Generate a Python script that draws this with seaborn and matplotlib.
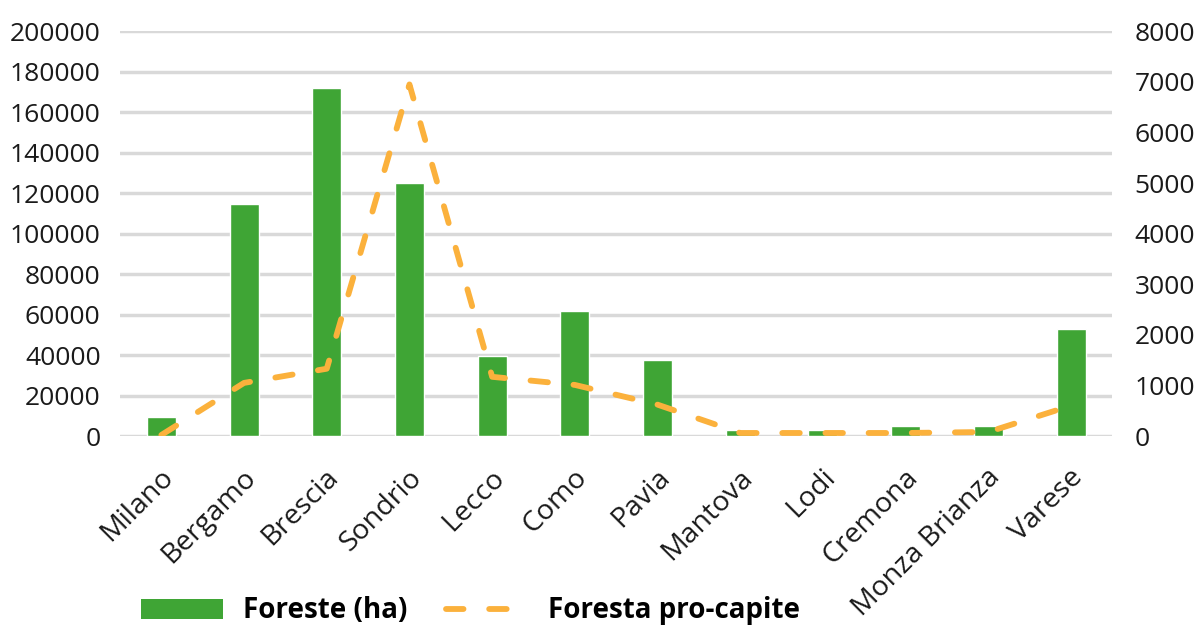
import matplotlib
matplotlib.use("Agg")
import matplotlib.pyplot as plt
import matplotlib.transforms as mtransforms
import seaborn as sns
import pandas as pd
from matplotlib.patches import Patch
from matplotlib.lines import Line2D

provinces = ["Milano", "Bergamo", "Brescia", "Sondrio", "Lecco", "Como", "Pavia",
             "Mantova", "Lodi", "Cremona", "Monza Brianza", "Varese"]
foreste_ha = [9500, 114500, 171800, 125000, 39500, 61800, 37600, 3000, 3000, 5000, 5000, 52800]
foresta_pro_capite = [20, 1050, 1330, 6950, 1170, 1010, 620, 60, 60, 60, 80, 600]

df = pd.DataFrame({"Provincia": provinces, "Foreste": foreste_ha, "ProCapite": foresta_pro_capite})

sns.set_theme(style="white")
plt.rcParams["font.family"] = ["Open Sans", "DejaVu Sans"]

GREEN = "#3FA535"
ORANGE = "#FBB13C"
GRID = "#D9D9D9"
TXT = "#1a1a1a"
FS = 19

fig = plt.figure(figsize=(12, 6.26), dpi=100)
ax = fig.add_axes([0.1, 0.3035, 0.827, 0.6465])

sns.barplot(data=df, x="Provincia", y="Foreste", color=GREEN, width=0.35,
            saturation=1, ax=ax, zorder=3)
ax.set_ylim(0, 200000)
ax.set_yticks(range(0, 200001, 20000))
ax.set_xlim(-0.5, len(provinces) - 0.5)
ax.yaxis.grid(True, color=GRID, linewidth=2.5, zorder=0)
ax.set_axisbelow(True)
for s in ax.spines.values():
    s.set_visible(False)
ax.set_xlabel("")
ax.set_ylabel("")
ax.tick_params(axis="y", labelsize=FS, colors=TXT, length=0, pad=14)
ax.tick_params(axis="x", labelsize=20.5, colors=TXT, length=0, pad=27)
offset = mtransforms.ScaledTranslation(8 / 100, 0, fig.dpi_scale_trans)
for lab in ax.get_xticklabels():
    lab.set_rotation(45)
    lab.set_ha("right")
    lab.set_va("center")
    lab.set_rotation_mode("anchor")
    lab.set_transform(lab.get_transform() + offset)

ax2 = ax.twinx()
sns.lineplot(x=list(range(len(provinces))), y=foresta_pro_capite, ax=ax2, color=ORANGE,
             linewidth=4.2, sort=False, zorder=4)
for ln in ax2.get_lines():
    ln.set_dashes((3.0, 4.4))
    ln.set_dash_capstyle("round")
ax2.set_ylim(0, 8000)
ax2.set_yticks(range(0, 8001, 1000))
ax2.set_xlim(-0.5, len(provinces) - 0.5)
for s in ax2.spines.values():
    s.set_visible(False)
ax2.grid(False)
ax2.set_ylabel("")
ax2.tick_params(axis="y", labelsize=FS, colors=TXT, length=0, pad=16)

handles = [Patch(facecolor=GREEN, edgecolor="none"),
           Line2D([0], [0], color=ORANGE, linewidth=4.2, dashes=(3.0, 4.4), dash_capstyle="round")]
leg = fig.legend(handles, ["Foreste (ha)", "Foresta pro-capite"], loc="center",
                 bbox_to_anchor=(0.392, 0.024), ncol=2, frameon=False,
                 prop={"weight": "bold", "size": 20}, handlelength=2.95, handleheight=0.75,
                 columnspacing=1.4, handletextpad=0.72)
for t in leg.get_texts():
    t.set_color("#000000")

fig.savefig("out.png", dpi=100)
